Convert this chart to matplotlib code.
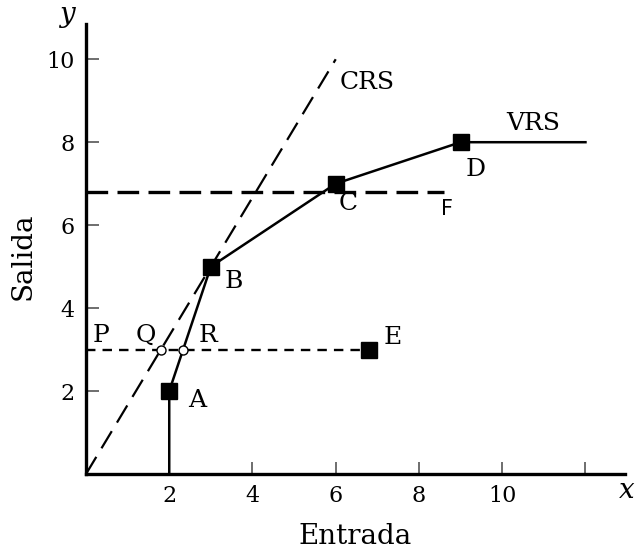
import numpy as np
import matplotlib.pyplot as plt

# datos
vrs_x = [2, 2, 3, 6, 9, 12]
vrs_y = [0, 2, 5, 7, 8, 8]
firm_names = ['A', 'B', 'C', 'D', 'E']
firm_x = [2, 3, 6, 9, 6.8]
firm_y = [2, 5, 7, 8, 3]
crs_x = [0, 6]
crs_y = [0, 10]
pqr_y = 3.0
q_x = 1.8
r_x = 2.33
f_y = 6.8
f_x_end = 8.6

x_ticks = [2, 4, 6, 8, 10, 12]
x_ticklabels = ['2', '4', '6', '8', '10', '']
y_ticks = [2, 4, 6, 8, 10]

plt.rcParams['font.family'] = ['DejaVu Serif']

fig = plt.figure(figsize=(6.37, 5.5), dpi=100)
ax = fig.add_axes([86 / 637, 76 / 550, 539 / 637, 450 / 550])

# frontera VRS
ax.plot(vrs_x, vrs_y, color='black', lw=1.8, zorder=3)
# frontera CRS
ax.plot(crs_x, crs_y, color='black', lw=1.6, dashes=(9, 4.5), zorder=2)
# linea horizontal y = 6.8 hasta F
ax.plot([0, f_x_end], [f_y, f_y], color='black', lw=2.4, dashes=(6.5, 2.8), zorder=2)
# linea P-E
ax.plot([0, firm_x[4]], [pqr_y, pqr_y], color='black', lw=1.7, dashes=(4, 3), zorder=2)

ax.plot(firm_x, firm_y, 's', color='black', ms=11.5, zorder=4)
ax.plot([q_x, r_x], [pqr_y, pqr_y], 'o', mfc='white', mec='black', ms=6.5, mew=1, zorder=5)

fs = 18
dy = -0.05  # pequeno ajuste vertical de las etiquetas
labels = {
    'A': (2.67, 1.83), 'B': (3.56, 4.70), 'C': (6.30, 6.56), 'D': (9.35, 7.40),
    'E': (7.36, 3.33),
}
for n in firm_names:
    lx, ly = labels[n]
    ax.text(lx, ly + dy, n, fontsize=fs, va='center', ha='center')
ax.text(0.36, 3.40 + dy, 'P', fontsize=fs, ha='center', va='center')
ax.text(1.44, 3.40 + dy, 'Q', fontsize=fs, ha='center', va='center')
ax.text(2.93, 3.40 + dy, 'R', fontsize=fs, ha='center', va='center')
ax.text(6.75, 9.5 + dy, 'CRS', fontsize=fs, ha='center', va='center')
ax.text(10.75, 8.49 + dy, 'VRS', fontsize=fs, ha='center', va='center')
ax.text(8.68, 6.44 + dy, 'F', fontsize=15, ha='center', va='center', family='DejaVu Sans')

ax.set_xlim(0, 12.95)
ax.set_ylim(0, 10.85)
ax.spines['top'].set_visible(False)
ax.spines['right'].set_visible(False)
ax.spines['left'].set_linewidth(2.4)
ax.spines['bottom'].set_linewidth(2.4)
ax.set_xticks(x_ticks)
ax.set_xticklabels(x_ticklabels)
ax.set_yticks(y_ticks)
ax.tick_params(direction='in', length=9, width=1.2, color='#555555', labelsize=16, pad=8)

fig.text(355 / 637, 1 - 537 / 550, 'Entrada', fontsize=20, ha='center', va='center')
fig.text(23 / 637, 1 - 256 / 550, 'Salida', fontsize=20, rotation=90, ha='center', va='center')
fig.text(67 / 637, 1 - 15 / 550, 'y', fontsize=20, style='italic', ha='center', va='center')
fig.text(627 / 637, 1 - 490 / 550, 'x', fontsize=20, style='italic', ha='center', va='center')

fig.savefig('out.png', dpi=100)
